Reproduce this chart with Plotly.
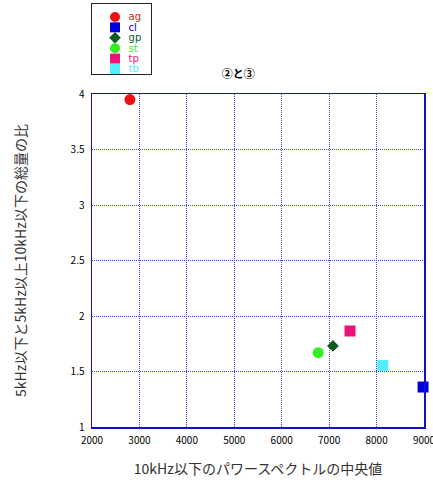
import plotly.graph_objects as go

names = ["ag", "cl", "gp", "st", "tp", "tb"]
x_vals = [2800, 8980, 7080, 6770, 7440, 8130]
y_vals = [3.95, 1.36, 1.73, 1.67, 1.865, 1.555]
colors = ["#ee1111", "#0000dd", "#0b5a1e", "#33ee22", "#ee1177", "#55eeff"]
symbols = ["circle", "square", "diamond", "circle", "square", "square"]
sizes = [11, 11, 9, 11, 11, 11]

x_ticks = [2000, 3000, 4000, 5000, 6000, 7000, 8000, 9000]
y_ticks = [1, 1.5, 2, 2.5, 3, 3.5, 4]

font = "Noto Sans CJK JP, sans-serif"

W, H = 433, 488
ML, MR, MT, MB = 92, 9, 4, 61
plot_h = H - MT - MB
main_top = (H - MB - 94) / plot_h
leg_bottom = (H - MB - 74) / plot_h
leg_right = (151 - ML) / (W - ML - MR)

fig = go.Figure()
for n, xv, yv, c, s, sz in zip(names, x_vals, y_vals, colors, symbols, sizes):
    fig.add_trace(go.Scatter(
        x=[xv], y=[yv], mode="markers", name=n, showlegend=False,
        marker=dict(color=c, symbol=s, size=sz, opacity=1, line=dict(width=0)),
        cliponaxis=False,
    ))

# custom legend drawn in an inset axis, one row per series
rows = [-i for i in range(len(names))]
fig.add_trace(go.Scatter(
    x=[0.39] * len(names), y=rows, mode="markers", xaxis="x2", yaxis="y2",
    marker=dict(color=colors, symbol=symbols, size=[10, 10, 9, 10, 10, 10],
                opacity=1, line=dict(width=0)),
    showlegend=False, hoverinfo="skip", cliponaxis=False,
))
fig.add_trace(go.Scatter(
    x=[0.62] * len(names), y=[r - 0.08 for r in rows], mode="text", xaxis="x2", yaxis="y2",
    text=names, textposition="middle right",
    textfont=dict(color=colors, size=10, family="DejaVu Sans, sans-serif"),
    showlegend=False, hoverinfo="skip", cliponaxis=False,
))

axis_common = dict(
    showline=True, linecolor="#1111cc", linewidth=1.5, mirror=True,
    showgrid=True, gridcolor="#3344ee", griddash="1px,1px", gridwidth=1,
    zeroline=False, ticks="", tickfont=dict(family=font, size=10, color="#000"),
    automargin=False,
)

fig.update_layout(
    width=W, height=H,
    margin=dict(l=ML, r=MR, t=MT, b=MB),
    paper_bgcolor="white", plot_bgcolor="white",
    font=dict(family=font, color="#000"),
    title=dict(text="<b>②と③</b>", x=0.55, xanchor="center", y=1 - 74 / H, yanchor="middle",
               font=dict(size=11, family=font, color="#000")),
    xaxis=dict(range=[2000, 9000], tickvals=x_ticks, ticktext=[str(v) for v in x_ticks],
               ticklabelstandoff=3, ticklabeloverflow="allow",
               title=dict(text="10kHz以下のパワースペクトルの中央値", font=dict(size=14, color="#333"), standoff=18),
               **axis_common),
    yaxis=dict(range=[1, 4], tickvals=y_ticks, ticktext=[str(v) for v in y_ticks],
               domain=[0, main_top], ticklabelstandoff=4,
               title=dict(text="5kHz以下と5kHz以上10kHz以下の総量の比", font=dict(size=14, color="#333"), standoff=40),
               **axis_common),
    xaxis2=dict(domain=[0, leg_right], range=[0, 1], anchor="y2",
                showline=True, mirror=True, linecolor="#222", linewidth=1,
                showgrid=False, zeroline=False, showticklabels=False, ticks=""),
    yaxis2=dict(domain=[leg_bottom, 1], range=[-5.48, 1.24], anchor="x2",
                showline=True, mirror=True, linecolor="#222", linewidth=1,
                showgrid=False, zeroline=False, showticklabels=False, ticks=""),
    showlegend=False,
    hovermode=False,
)

fig.write_html("out.html", config={"displayModeBar": False, "staticPlot": True},
               post_script="document.body.style.margin='0px';")
